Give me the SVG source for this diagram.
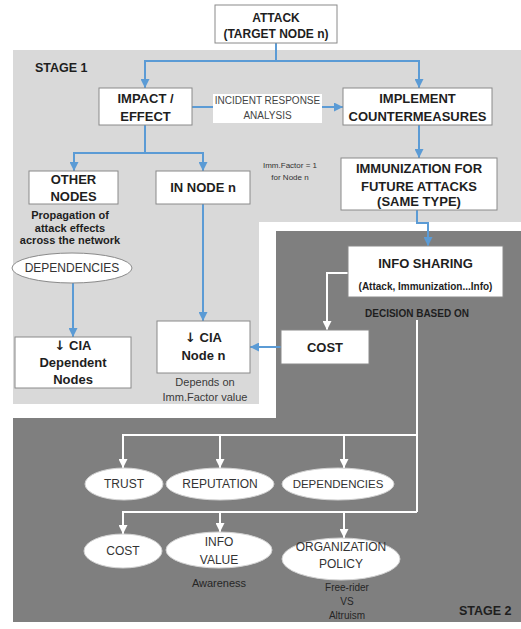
<svg xmlns="http://www.w3.org/2000/svg" width="521" height="629" viewBox="0 0 521 629">
<defs>
<style>
text{font-family:"Liberation Sans",Arial,sans-serif;text-anchor:middle;fill:#1e1e1e}
.b{font-weight:bold;font-size:13px}
.box{fill:#fff;stroke:#8a8a8a;stroke-width:1}
.ell{fill:#fff;stroke:#d2d2d2;stroke-width:1}
.blue{fill:none;stroke:#5b9bd5;stroke-width:2}
.wht{fill:none;stroke:#fff;stroke-width:2}
.r{font-size:11px;fill:#3a3a3a}
.arr{font-family:"DejaVu Sans",sans-serif;font-weight:bold}
</style>
<marker id="ab" viewBox="0 0 10 10" refX="10" refY="5" markerWidth="9" markerHeight="9" markerUnits="userSpaceOnUse" orient="auto"><path d="M0,0 L10,5 L0,10 z" fill="#5b9bd5"/></marker>
<marker id="aw" viewBox="0 0 10 10" refX="10" refY="5" markerWidth="9" markerHeight="9" markerUnits="userSpaceOnUse" orient="auto"><path d="M0,0 L10,5 L0,10 z" fill="#fff"/></marker>
</defs>
<rect width="521" height="629" fill="#fff"/>
<g id="stage1">
<path d="M13,50 H521 V222 H259 V404 H13 Z" fill="#d9d9d9"/>
<text x="35" y="72" class="b" style="text-anchor:start;font-size:12.5px">STAGE 1</text>
</g>
<g id="stage2">
<path d="M276,231 H521 V622 H13 V418 H276 Z" fill="#7f7f7f"/>
<text x="459" y="615" class="b" style="text-anchor:start;font-size:12.5px">STAGE 2</text>
</g>
<g id="connectors">
<path class="blue" d="M276,43 V61 H145 V88" marker-end="url(#ab)"/>
<path class="blue" d="M276,61 H419 V88" marker-end="url(#ab)"/>
<path class="blue" d="M192,107 H213"/>
<path class="blue" d="M322,107 H343" marker-end="url(#ab)"/>
<path class="blue" d="M145,125 V153 H74 V171" marker-end="url(#ab)"/>
<path class="blue" d="M145,153 H203 V171" marker-end="url(#ab)"/>
<path class="blue" d="M419,125 V158" marker-end="url(#ab)"/>
<path class="blue" d="M417,210 V223 H428 V246" marker-end="url(#ab)"/>
<path class="blue" d="M73,283 V337" marker-end="url(#ab)"/>
<path class="blue" d="M203,204 V321" marker-end="url(#ab)"/>
<path class="blue" d="M281,347 H250" marker-end="url(#ab)"/>
<path class="wht" d="M348,273 H327 V330" marker-end="url(#aw)"/>
<path class="wht" d="M417,320 V512"/>
<path class="wht" d="M417,435 H123 V468" marker-end="url(#aw)"/>
<path class="wht" d="M220,435 V468" marker-end="url(#aw)"/>
<path class="wht" d="M344,435 V468" marker-end="url(#aw)"/>
<path class="wht" d="M417,512 H123 V534" marker-end="url(#aw)"/>
<path class="wht" d="M220,512 V532" marker-end="url(#aw)"/>
<path class="wht" d="M344,512 V538" marker-end="url(#aw)"/>
</g>
<g id="attack">
<rect class="box" x="215" y="5" width="122" height="38"/>
<text x="276" y="22" class="b" style="font-size:12px">ATTACK</text>
<text x="276" y="38" class="b" style="font-size:12px">(TARGET NODE n)</text>
</g>
<g id="impact">
<rect class="box" x="99" y="88" width="93" height="37"/>
<text x="145.5" y="103" class="b">IMPACT /</text>
<text x="145.5" y="121" class="b">EFFECT</text>
</g>
<g id="incident-label">
<rect x="213" y="94" width="109" height="29" fill="#fff"/>
<text x="267.5" y="104" style="font-size:10px;fill:#444">INCIDENT RESPONSE</text>
<text x="267.5" y="119" style="font-size:10px;fill:#444">ANALYSIS</text>
</g>
<g id="implement">
<rect class="box" x="343" y="88" width="149" height="37"/>
<text x="417.5" y="103" class="b">IMPLEMENT</text>
<text x="417.5" y="121" class="b">COUNTERMEASURES</text>
</g>
<g id="other-nodes">
<rect class="box" x="29" y="171" width="89" height="33"/>
<text x="73.5" y="184" class="b">OTHER</text>
<text x="73.5" y="201" class="b">NODES</text>
<text x="70" y="219" class="b" style="font-size:11px">Propagation of</text>
<text x="70" y="232" class="b" style="font-size:11px">attack effects</text>
<text x="70" y="244" class="b" style="font-size:11px">across the network</text>
</g>
<g id="in-node">
<rect class="box" x="156" y="171" width="94" height="33"/>
<text x="203" y="192" class="b">IN NODE n</text>
</g>
<g id="imm-label">
<text x="290" y="168" style="font-size:8px;fill:#333">Imm.Factor = 1</text>
<text x="290" y="180" style="font-size:8px;fill:#333">for Node n</text>
</g>
<g id="immunization">
<rect class="box" x="341" y="158" width="156" height="52"/>
<text x="419" y="173" class="b">IMMUNIZATION FOR</text>
<text x="419" y="191" class="b">FUTURE ATTACKS</text>
<text x="419" y="206" class="b">(SAME TYPE)</text>
</g>
<g id="dependencies1">
<ellipse cx="72" cy="268" rx="60" ry="15" fill="#fff" stroke="#8a8a8a" stroke-width="1"/>
<text x="72" y="272" style="font-size:12px;fill:#333">DEPENDENCIES</text>
</g>
<g id="cia-dependent">
<rect class="box" x="15" y="337" width="116" height="51"/>
<text x="73" y="350" class="b"><tspan class="arr">↓</tspan> CIA</text>
<text x="73" y="367" class="b">Dependent</text>
<text x="73" y="384" class="b">Nodes</text>
</g>
<g id="cia-node">
<rect class="box" x="157" y="321" width="93" height="52"/>
<text x="203.5" y="342" class="b"><tspan class="arr">↓</tspan> CIA</text>
<text x="203.5" y="360" class="b">Node n</text>
<text x="205" y="386" class="r">Depends on</text>
<text x="205" y="401" class="r">Imm.Factor value</text>
</g>
<g id="info-sharing">
<rect class="box" x="348" y="246" width="155" height="51"/>
<text x="425.5" y="268" class="b">INFO SHARING</text>
<text x="425.5" y="290" class="b" style="font-size:10px">(Attack, Immunization...Info)</text>
<text x="417" y="317" class="b" style="font-size:10px">DECISION BASED ON</text>
</g>
<g id="cost-box">
<rect class="box" x="281" y="330" width="88" height="34"/>
<text x="325" y="352" class="b">COST</text>
</g>
<g id="trust">
<ellipse class="ell" cx="124" cy="484" rx="39" ry="16"/>
<text x="124" y="488" style="font-size:12px;fill:#333">TRUST</text>
</g>
<g id="reputation">
<ellipse class="ell" cx="220" cy="484" rx="54" ry="16"/>
<text x="220" y="488" style="font-size:12px;fill:#333">REPUTATION</text>
</g>
<g id="dependencies2">
<ellipse class="ell" cx="338" cy="484" rx="56" ry="16"/>
<text x="338" y="488" style="font-size:11.5px;fill:#333">DEPENDENCIES</text>
</g>
<g id="cost-ellipse">
<ellipse class="ell" cx="123" cy="551" rx="39" ry="17"/>
<text x="123" y="555" style="font-size:12px;fill:#333">COST</text>
</g>
<g id="info-value">
<ellipse class="ell" cx="219" cy="550" rx="53" ry="18"/>
<text x="219" y="546" style="font-size:12px;fill:#333">INFO</text>
<text x="219" y="564" style="font-size:12px;fill:#333">VALUE</text>
<text x="219" y="587" class="r" style="fill:#262626">Awareness</text>
</g>
<g id="org-policy">
<ellipse class="ell" cx="341" cy="559" rx="59" ry="21"/>
<text x="341" y="551" style="font-size:12px;fill:#333">ORGANIZATION</text>
<text x="341" y="568" style="font-size:12px;fill:#333">POLICY</text>
<text x="347" y="591" style="font-size:10px;fill:#262626">Free-rider</text>
<text x="347" y="605" style="font-size:10px;fill:#262626">VS</text>
<text x="347" y="619" style="font-size:10px;fill:#262626">Altruism</text>
</g>
</svg>
